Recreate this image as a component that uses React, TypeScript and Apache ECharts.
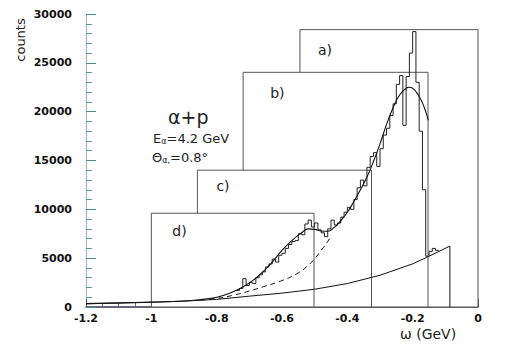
import React, { useEffect, useRef } from "react";
import * as echarts from "echarts";

// ---- data ----
const xTickLabels = ["-1.2", "-1", "-0.8", "-0.6", "-0.4", "-0.2", "0"];
const yTickLabels = ["0", "5000", "10000", "15000", "20000", "25000", "30000"];

// stacked panels: [left omega, right omega, top counts]
const boxLabels = ["a)", "b)", "c)", "d)"];
const boxLeft = [-0.545, -0.719, -0.859, -1.0];
const boxRight = [0, -0.153, -0.326, -0.502];
const boxTop = [28400, 24030, 14010, 9600];

// histogram (bin width 0.01 starting at -0.74)
const histStart = -0.74;
const histBinWidth = 0.01;
const histCounts = [
  1700, 1900, 2900, 2200, 2500, 2400, 3000, 3300, 3600, 4100,
  4400, 4900, 4600, 5300, 5500, 6000, 6400, 6700, 6800, 7500,
  7400, 8500, 8900, 8200, 8600, 7900, 7600, 7200, 8000, 8900,
  8400, 8600, 9200, 9700, 10200, 10000, 11000, 12200, 13000, 12400,
  14300, 15400, 15800, 14400, 16200, 17600, 18300, 19600, 20800, 22800,
  23700, 18600, 23600, 26000, 28200, 23000, 18000, 12000, 5200, 5700,
  6000, 5800,
];

// full fit (solid)
const fitX = [-1.2, -1.1, -1.0, -0.9, -0.85, -0.8, -0.76, -0.72, -0.69, -0.66, -0.63, -0.6, -0.57, -0.54, -0.52, -0.5, -0.48, -0.46, -0.44, -0.42, -0.4, -0.38, -0.36, -0.34, -0.32, -0.3, -0.28, -0.26, -0.24, -0.22, -0.21, -0.2, -0.19, -0.18, -0.17, -0.16, -0.152];
const fitY = [350, 420, 510, 620, 760, 1000, 1400, 2050, 2700, 3550, 4600, 5800, 6800, 7600, 8000, 7950, 7780, 7750, 8150, 8850, 9700, 10800, 12000, 13300, 14900, 16700, 18700, 20400, 21700, 22400, 22500, 22400, 22050, 21550, 20900, 20000, 19100];

// partial fit (dashed)
const dashX = [-0.85, -0.8, -0.75, -0.7, -0.65, -0.6, -0.55, -0.52, -0.5, -0.48, -0.46, -0.45];
const dashY = [720, 880, 1200, 1640, 2150, 2700, 3500, 4250, 4950, 5800, 6700, 7300];

// background (lower solid)
const bgX = [-1.2, -1.1, -1.0, -0.9, -0.8, -0.7, -0.6, -0.5, -0.4, -0.3, -0.2, -0.157, -0.086, -0.086];
const bgY = [330, 400, 480, 600, 780, 1110, 1420, 1820, 2400, 3250, 4420, 5080, 6240, 0];

// ---- layout / style (not data) ----
const labelOffsets = [
  [18, 20],
  [27, 21],
  [19, 16],
  [21, 18],
];

function zip(xs: number[], ys: number[]) {
  return xs.map((x, i) => [x, ys[i]]);
}

function histSteps() {
  const pts: number[][] = [];
  histCounts.forEach((c, i) => {
    const l = histStart + i * histBinWidth;
    pts.push([l, c]);
    pts.push([l + histBinWidth, c]);
  });
  return pts;
}

export default function App() {
  const ref = useRef<HTMLDivElement>(null);
  useEffect(() => {
    if (!ref.current) return;
    const chart = echarts.init(ref.current, undefined, { renderer: "svg" });
    const font = "DejaVu Sans";
    const boxData = boxLabels.map((_, i) => [boxLeft[i], boxRight[i], boxTop[i]]);
    chart.setOption({
      animation: false,
      backgroundColor: "#fff",
      grid: { left: 86, right: 36, top: 14, bottom: 47, containLabel: false },
      xAxis: {
        type: "value",
        min: -1.2,
        max: 0,
        interval: 0.2,
        axisLine: { show: true, onZero: false, lineStyle: { color: "#334", width: 1.5 } },
        axisTick: { show: true, inside: true, length: 8, lineStyle: { color: "#556" } },
        minorTick: { show: true, splitNumber: 4, length: 4, lineStyle: { color: "#667" } },
        splitLine: { show: false },
        axisLabel: {
          margin: 6,
          fontFamily: font,
          fontWeight: "bold",
          fontSize: 11,
          color: "#111",
          formatter: (v: number) => xTickLabels[Math.round((v + 1.2) / 0.2)] ?? "",
        },
      },
      yAxis: {
        type: "value",
        min: 0,
        max: 30000,
        interval: 5000,
        position: "left",
        axisLine: { show: true, onZero: false, lineStyle: { color: "#aab", width: 1 } },
        axisTick: { show: true, inside: true, length: 10, lineStyle: { color: "#4d8b9c" } },
        minorTick: { show: true, splitNumber: 5, length: 6, lineStyle: { color: "#5c9aab" } },
        splitLine: { show: false },
        axisLabel: {
          margin: 14,
          fontFamily: font,
          fontWeight: "bold",
          fontSize: 11,
          color: "#111",
          formatter: (v: number) => yTickLabels[Math.round(v / 5000)] ?? "",
        },
      },
      series: [
        {
          type: "custom",
          z: 1,
          silent: true,
          data: boxData,
          renderItem: (params: any, api: any) => {
            const i = params.dataIndex;
            const p0 = api.coord([api.value(0), api.value(2)]);
            const p1 = api.coord([api.value(1), 0]);
            const off = labelOffsets[i];
            return {
              type: "group",
              children: [
                {
                  type: "rect",
                  shape: { x: p0[0], y: p0[1], width: p1[0] - p0[0], height: p1[1] - p0[1] },
                  style: { fill: "#fff", stroke: "#555", lineWidth: 1 },
                },
                {
                  type: "text",
                  x: p0[0] + off[0],
                  y: p0[1] + off[1],
                  style: {
                    text: boxLabels[i],
                    fontFamily: font,
                    fontSize: 14,
                    fill: "#222",
                    verticalAlign: "middle",
                  },
                },
              ],
            };
          },
        },
        {
          type: "line",
          z: 3,
          data: zip(bgX, bgY),
          smooth: false,
          showSymbol: false,
          lineStyle: { color: "#111", width: 1 },
        },
        {
          type: "line",
          z: 3,
          data: zip(dashX, dashY),
          smooth: true,
          showSymbol: false,
          lineStyle: { color: "#111", width: 1, type: [5, 4] },
        },
        {
          type: "line",
          z: 4,
          data: histSteps(),
          showSymbol: false,
          lineStyle: { color: "#222", width: 1 },
        },
        {
          type: "line",
          z: 5,
          data: zip(fitX, fitY),
          smooth: true,
          showSymbol: false,
          lineStyle: { color: "#111", width: 1.1 },
        },
      ],
      graphic: [
        {
          type: "text",
          x: 20,
          y: 40,
          rotation: Math.PI / 2,
          style: {
            text: "counts",
            fontFamily: font,
            fontSize: 13,
            fill: "#222",
            align: "center",
            verticalAlign: "middle",
          },
        },
        {
          type: "text",
          x: 400,
          y: 334,
          style: {
            text: "ω (GeV)",
            fontFamily: font,
            fontSize: 14,
            fill: "#222",
            verticalAlign: "middle",
          },
        },
        {
          type: "text",
          x: 168,
          y: 117,
          style: {
            text: "α+p",
            fontFamily: font,
            fontSize: 19,
            fill: "#222",
            verticalAlign: "middle",
          },
        },
        {
          type: "text",
          x: 153,
          y: 138,
          style: {
            text: "{a|E}{b|α}{a|=4.2 GeV}",
            verticalAlign: "middle",
            rich: {
              a: { fontFamily: font, fontSize: 13, fill: "#222" },
              b: { fontFamily: font, fontSize: 8, fill: "#222", padding: [7, 0, 0, 0] },
            },
          },
        },
        {
          type: "text",
          x: 152,
          y: 157,
          style: {
            text: "{a|Θ}{b|α,}{a|=0.8°}",
            verticalAlign: "middle",
            rich: {
              a: { fontFamily: font, fontSize: 13, fill: "#222" },
              b: { fontFamily: font, fontSize: 8, fill: "#222", padding: [7, 0, 0, 0] },
            },
          },
        },
      ],
    });
    return () => chart.dispose();
  }, []);
  return (
    <div
      ref={ref}
      style={{ position: "fixed", left: 0, top: 0, width: 514, height: 354, background: "#fff" }}
    />
  );
}
